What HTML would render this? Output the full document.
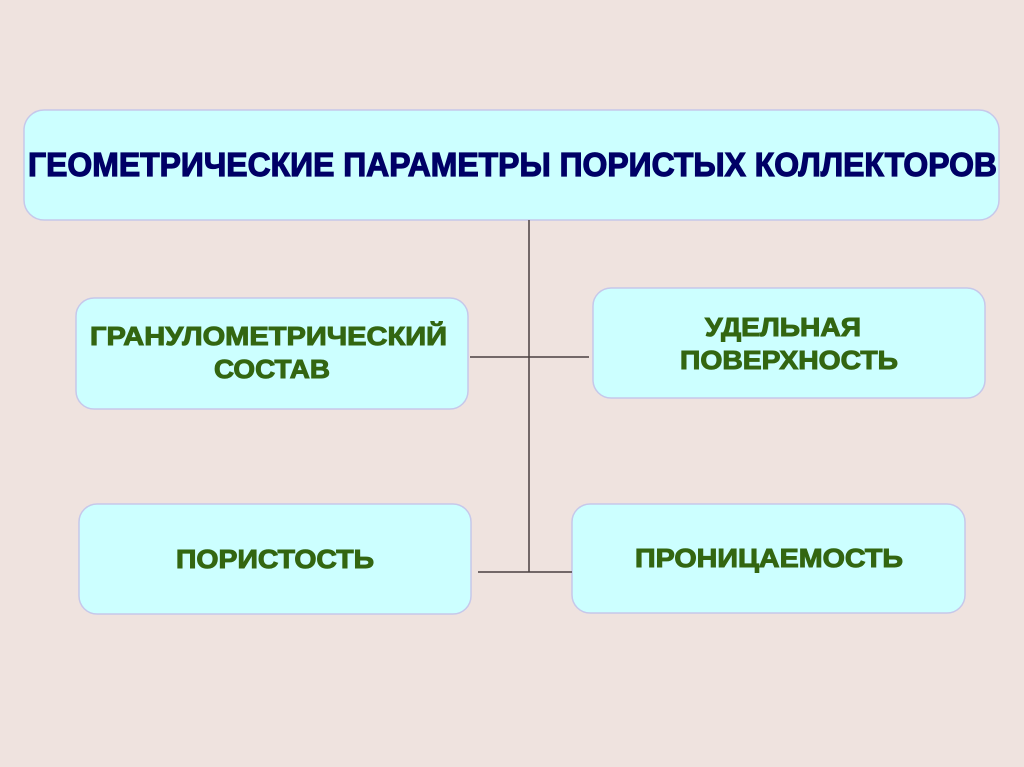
<!DOCTYPE html>
<html><head><meta charset="utf-8"><style>
html,body{margin:0;padding:0;background:#efe3df;}
svg{display:block}
text{font-family:"Liberation Sans",Arial,sans-serif;font-weight:bold;}
</style></head><body>
<svg width="1024" height="767" viewBox="0 0 1024 767" xmlns="http://www.w3.org/2000/svg">
<rect x="0" y="0" width="1024" height="767" fill="#efe3df"/>
<g fill="#ccffff" stroke="#c6c8ea" stroke-width="1.5">
<rect x="24" y="110" width="975" height="110" rx="20"/>
<rect x="76" y="298" width="392" height="111" rx="18"/>
<rect x="593" y="288" width="392" height="110" rx="18"/>
<rect x="79" y="504" width="392" height="110" rx="18"/>
<rect x="572" y="504" width="393" height="109" rx="18"/>
</g>
<g stroke="#4a4040" stroke-width="1.5">
<line x1="529" y1="220" x2="529" y2="572"/>
<line x1="470" y1="357" x2="589" y2="357"/>
<line x1="478" y1="572" x2="572" y2="572"/>
</g>
<text x="28" y="176" font-size="33" fill="#000066" stroke="#000066" stroke-width="1.2" textLength="969" lengthAdjust="spacingAndGlyphs">ГЕОМЕТРИЧЕСКИЕ ПАРАМЕТРЫ ПОРИСТЫХ КОЛЛЕКТОРОВ</text>
<g fill="#336611" stroke="#336611" stroke-width="1" font-size="26">
<text x="90" y="345" textLength="357" lengthAdjust="spacingAndGlyphs">ГРАНУЛОМЕТРИЧЕСКИЙ</text>
<text x="214" y="378" textLength="116" lengthAdjust="spacingAndGlyphs">СОСТАВ</text>
<text x="705" y="336" textLength="156" lengthAdjust="spacingAndGlyphs">УДЕЛЬНАЯ</text>
<text x="680" y="369" textLength="218" lengthAdjust="spacingAndGlyphs">ПОВЕРХНОСТЬ</text>
<text x="176" y="568" textLength="198" lengthAdjust="spacingAndGlyphs">ПОРИСТОСТЬ</text>
<text x="635" y="567" textLength="268" lengthAdjust="spacingAndGlyphs">ПРОНИЦАЕМОСТЬ</text>
</g>
</svg>
</body></html>
